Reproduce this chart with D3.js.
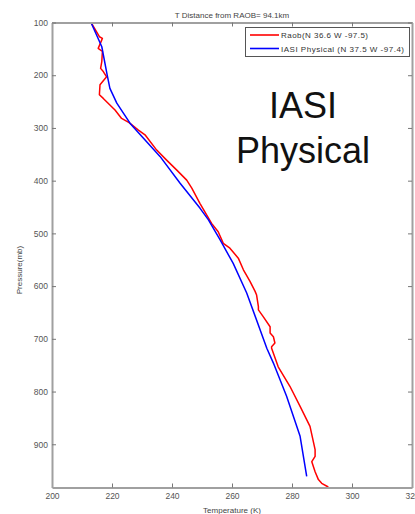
<!DOCTYPE html>
<html><head><meta charset="utf-8">
<script src="https://cdn.jsdelivr.net/npm/d3@7"></script>
<style>body{margin:0;background:#fff;overflow:hidden}svg{display:block;font-family:Arial,"Liberation Sans",sans-serif}</style>
</head><body>
<script>
const titleText = "T Distance from RAOB= 94.1km";
const xLabel = "Temperature (K)";
const yLabel = "Pressure(mb)";
const xTicks = [200, 220, 240, 260, 280, 300, 320];
const yTicks = [100, 200, 300, 400, 500, 600, 700, 800, 900];
const seriesNames = ["Raob(N 36.6 W -97.5)", "IASI Physical (N 37.5 W -97.4)"];
const seriesColors = ["#ff0000", "#0000ff"];
const raobP = [100,127,130,133,149,155,174,187,193,203,218,237,244,266,282,290,304,313,342,361,380,399,414,443,481,497,519,528,547,569,591,610,617,639,645,658,677,689,696,708,715,718,753,790,828,866,910,923,933,952,967,974,981];
const raobT = [213,215.8,216.8,216.6,215.4,216.8,216.6,216.2,217.1,218.2,216,215.8,217.1,221,223.2,225.7,228.8,231,234.9,238.2,241.6,244.9,246.6,249.3,253.2,255.4,257.1,259.3,262.1,263.8,266,267.7,268.2,268.8,268.8,270.4,272.7,272.7,273.8,274.3,273.2,273.2,275.4,279.3,282.7,286,287.7,287.7,286.6,287.7,288.8,289.9,292.1];
const iasiP = [100,146,200,225,253,291,298,354,405,452,474,512,557,613,718,746,809,885,961];
const iasiT = [213,216.6,218.4,219.3,221.6,226,227.1,236,242.7,249.3,252.1,256,260.4,264.9,271.6,273.8,278.2,282.7,284.9];
const bigLabel = ["IASI", "Physical"];

const W = 415, H = 514;
const m = {l:52, r:412, t:22.5, b:487.5};
const svg = d3.select("body").append("svg").attr("width", W).attr("height", H);
const x = d3.scaleLinear().domain([200, 320]).range([m.l, m.r]);
const y = d3.scaleLinear().domain([100, 982]).range([m.t, m.b]);
const axisColor = "#a0a0a0";
const textColor = "#555";

// lines
const line = d3.line().x(d => x(d[0])).y(d => y(d[1]));
const raob = raobT.map((t,i) => [t, raobP[i]]);
const iasi = iasiT.map((t,i) => [t, iasiP[i]]);
svg.append("path").datum(raob).attr("d", line).attr("fill","none").attr("stroke",seriesColors[0]).attr("stroke-width",1.5).attr("stroke-linejoin","round");
svg.append("path").datum(iasi).attr("d", line).attr("fill","none").attr("stroke",seriesColors[1]).attr("stroke-width",1.5).attr("stroke-linejoin","round");

// axes
const tickLen = 4;
const gx = svg.append("g").attr("transform",`translate(0,${m.b})`)
  .call(d3.axisBottom(x).tickValues(xTicks).tickSize(-tickLen).tickPadding(5).tickSizeOuter(0));
const gxt = svg.append("g").attr("transform",`translate(0,${m.t})`)
  .call(d3.axisTop(x).tickValues(xTicks).tickSize(-tickLen).tickFormat("").tickSizeOuter(0));
const gy = svg.append("g").attr("transform",`translate(${m.l},0)`)
  .call(d3.axisLeft(y).tickValues(yTicks).tickSize(-tickLen).tickPadding(4).tickSizeOuter(0));
const gyr = svg.append("g").attr("transform",`translate(${m.r},0)`)
  .call(d3.axisRight(y).tickValues(yTicks).tickSize(-tickLen).tickFormat("").tickSizeOuter(0));
[gx,gxt,gy,gyr].forEach(g => {
  g.select(".domain").attr("stroke", axisColor).attr("stroke-width", 2);
  g.selectAll(".tick line").attr("stroke", "#777").attr("stroke-width", 1);
  g.selectAll("text").attr("fill", textColor).attr("font-size", 8.5).attr("font-family","Arial, 'Liberation Sans', sans-serif");
});

// title and labels
svg.append("text").attr("x", 232).attr("y", 17.5).attr("text-anchor","middle").attr("font-size",8).attr("fill","#444").text(titleText);
svg.append("text").attr("x", 232).attr("y", 513).attr("text-anchor","middle").attr("font-size",8).attr("fill","#444").text(xLabel);
svg.append("text").attr("transform","translate(22,270) rotate(-90)").attr("text-anchor","middle").attr("font-size",8).attr("fill","#444").text(yLabel);

// legend
const legendWidths = [87, 123];
const lg = svg.append("g");
lg.append("rect").attr("x",245.5).attr("y",27.5).attr("width",164).attr("height",29).attr("fill","#fff").attr("stroke","#555").attr("stroke-width",1);
seriesNames.forEach((n,i) => {
  const yy = 35 + i*13.5;
  lg.append("line").attr("x1",250).attr("x2",279).attr("y1",yy).attr("y2",yy).attr("stroke",seriesColors[i]).attr("stroke-width",1.6);
  lg.append("text").attr("x",281).attr("y",yy+3).attr("font-size",8).attr("fill","#333")
    .attr("textLength", legendWidths[i]).attr("lengthAdjust","spacing").text(n);
});

// big annotation
bigLabel.forEach((t,i) => {
  svg.append("text").attr("x",303).attr("y",118 + i*45).attr("text-anchor","middle").attr("font-size",36).attr("fill","#111").text(t);
});
</script>
</body></html>
